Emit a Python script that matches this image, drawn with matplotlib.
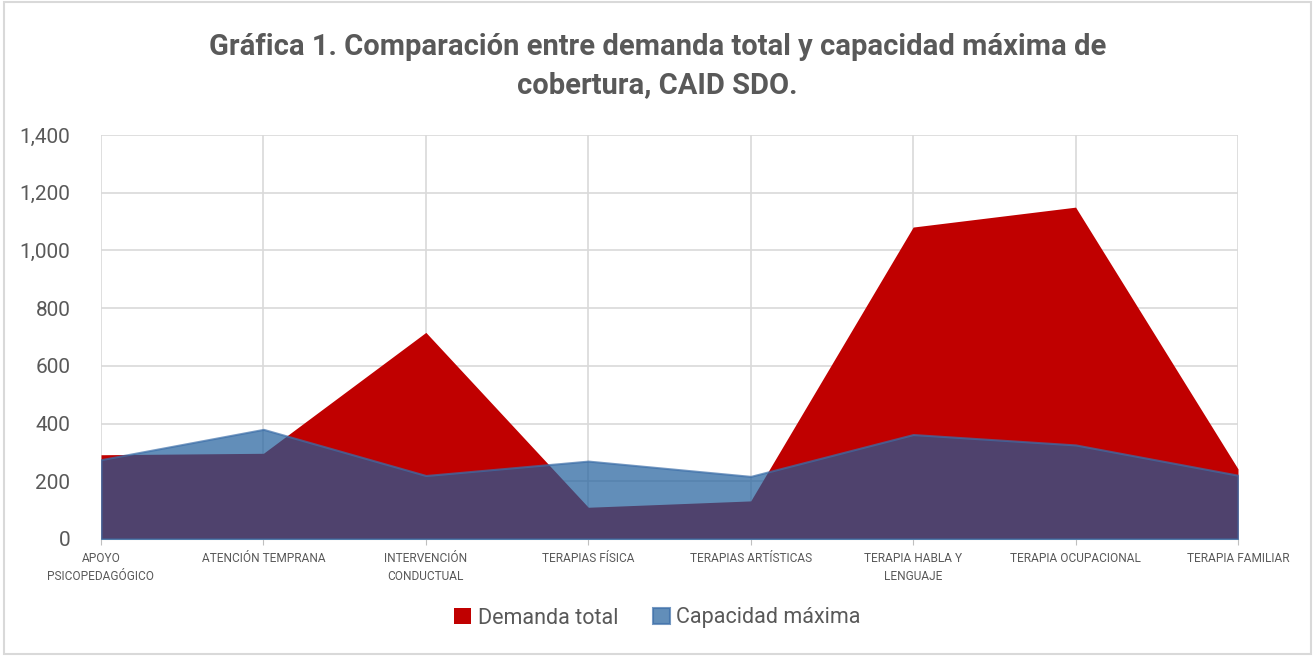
import matplotlib
matplotlib.use("Agg")
import matplotlib.pyplot as plt
from matplotlib.patches import Rectangle
from matplotlib.ticker import FuncFormatter

# ---- data ----
categorias = ["APOYO\nPSICOPEDAGÓGICO", "ATENCIÓN TEMPRANA", "INTERVENCIÓN\nCONDUCTUAL",
              "TERAPIAS FÍSICA", "TERAPIAS ARTÍSTICAS", "TERAPIA HABLA Y\nLENGUAJE",
              "TERAPIA OCUPACIONAL", "TERAPIA FAMILIAR"]
demanda_total = [292, 297, 716, 110, 132, 1081, 1150, 243]
capacidad_maxima = [275, 380, 220, 270, 217, 362, 326, 221]

ROJO = "#C00000"
AZUL = "#205F9C"
GRIS = "#595959"
REJILLA = "#D9D9D9"

plt.rcParams['font.family'] = ['Roboto', 'DejaVu Sans']

fig = plt.figure(figsize=(13.15, 6.56), dpi=100)
ax = fig.add_axes([101 / 1315, 1 - 539 / 656, (1238 - 101) / 1315, (539 - 135) / 656])

x = list(range(len(categorias)))
ax.fill_between(x, demanda_total, 0, color=ROJO, lw=0, label="Demanda total", zorder=2)
ax.fill_between(x, capacidad_maxima, 0, facecolor=AZUL, alpha=0.7, edgecolor="#3C6EA8",
                lw=1.5, label="Capacidad máxima", zorder=3)

ax.set_xlim(0, len(categorias) - 1)
ax.set_ylim(0, 1400)
ax.set_yticks(range(0, 1401, 200))
ax.yaxis.set_major_formatter(FuncFormatter(lambda v, p: f"{int(v):,}"))
ax.set_xticks(x)
ax.set_xticklabels(categorias, fontsize=8.6, color=GRIS, linespacing=1.55)
ax.tick_params(axis='y', labelsize=15, labelcolor=GRIS, length=0, pad=22)
ax.tick_params(axis='x', length=4, color="#BFBFBF", pad=5)
ax.grid(True, color=REJILLA, lw=1.2, zorder=0)
ax.set_axisbelow(True)
for s in ["top", "right", "left"]:
    ax.spines[s].set_visible(False)
ax.spines["bottom"].set_color("#BFBFBF")

fig.text(0.5, 1 - 66 / 656, "Gráfica 1. Comparación entre demanda total y capacidad máxima de\ncobertura, CAID SDO.",
         ha="center", va="center", fontsize=21, fontweight="bold", color=GRIS, linespacing=1.45)

leg = fig.legend(loc="center", bbox_to_anchor=(0.5, 1 - 618 / 656), ncol=2, frameon=False,
                 fontsize=15.5, handlelength=0.8, handleheight=0.8, handletextpad=0.3, columnspacing=1.6)
for t in leg.get_texts():
    t.set_color(GRIS)

fig.patches.append(Rectangle((0.003, 0.003), 0.994, 0.994, transform=fig.transFigure,
                             fill=False, edgecolor="#D9D9D9", lw=1.5))

fig.savefig("out.png", dpi=100)
